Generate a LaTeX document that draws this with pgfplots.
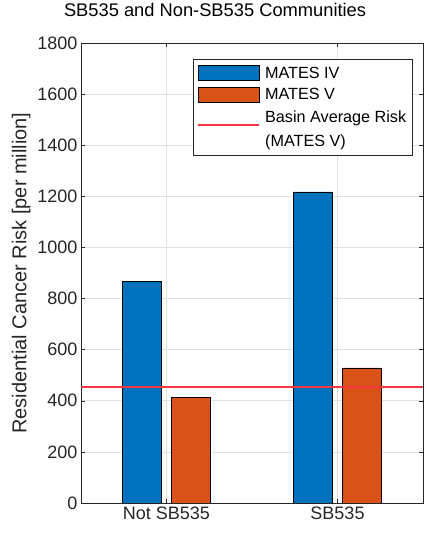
\documentclass[border=0pt]{standalone}
\usepackage{fontspec}
\setmainfont{Liberation Sans}
\usepackage{pgfplots}
\pgfplotsset{compat=1.18}

\definecolor{mblue}{RGB}{0,114,189}
\definecolor{morange}{RGB}{217,83,25}
\definecolor{mred}{RGB}{245,55,65}
\definecolor{mgrid}{RGB}{225,225,225}
\definecolor{maxis}{RGB}{38,38,38}

\pgfplotsset{
    barleg/.style={legend image code/.code={\draw[##1] (0pt,-7.5pt) rectangle (61pt,7.5pt);}},
    lineleg/.style={legend image code/.code={\draw[mred, line width=1.4pt] (0pt,4pt) -- (61pt,4pt);}},
}

\begin{document}
\begin{tikzpicture}
\begin{axis}[
    width=342pt, height=460pt, scale only axis,
    xmin=0.5, xmax=2.5,
    ymin=0, ymax=1800,
    xtick={1,2},
    xticklabels={Not SB535, SB535},
    ytick distance=200,
    /pgf/number format/assume math mode=true,
    /pgf/number format/1000 sep={},
    tick align=inside,
    major tick length=4pt,
    tick style={maxis, line width=0.5pt},
    axis line style={maxis, line width=0.6pt},
    grid=major,
    major grid style={mgrid, line width=0.6pt},
    ticklabel style={font=\fontsize{18}{20}\selectfont, text=maxis},
    ylabel={Residential Cancer Risk [per million]},
    ylabel style={font=\fontsize{20}{22}\selectfont, text=maxis},
    title={SB535 and Non-SB535 Communities},
    title style={font=\fontsize{18.3}{20}\selectfont, text=black,
        at={(axis description cs:0.392,1)}, anchor=base, yshift=20pt},
    legend style={at={(1,1)}, anchor=north east, xshift=-10pt, yshift=-16pt,
        draw=maxis, line width=0.6pt, inner xsep=4.5pt, inner ysep=3pt,
        column sep=3pt,
        nodes={font=\fontsize{16.2}{24}\selectfont, text=black, align=left,
            inner ysep=4.5pt}},
    legend cell align=left,
]
\addplot[ybar, bar width=0.23, bar shift=-0.144, fill=mblue, draw=black, line width=0.6pt, barleg]
    coordinates {(1,868) (2,1217)};
\addlegendentry{MATES IV}
\addplot[ybar, bar width=0.23, bar shift=0.144, fill=morange, draw=black, line width=0.6pt, barleg]
    coordinates {(1,412) (2,529)};
\addlegendentry{MATES V}
\addplot[mred, line width=1.4pt, lineleg]
    coordinates {(0.5,454) (2.5,454)};
\addlegendentry{Basin Average Risk\\(MATES V)}
\end{axis}
\pgfresetboundingbox
\path (-81pt,-30pt) rectangle (346pt,503pt);
\end{tikzpicture}
\end{document}
